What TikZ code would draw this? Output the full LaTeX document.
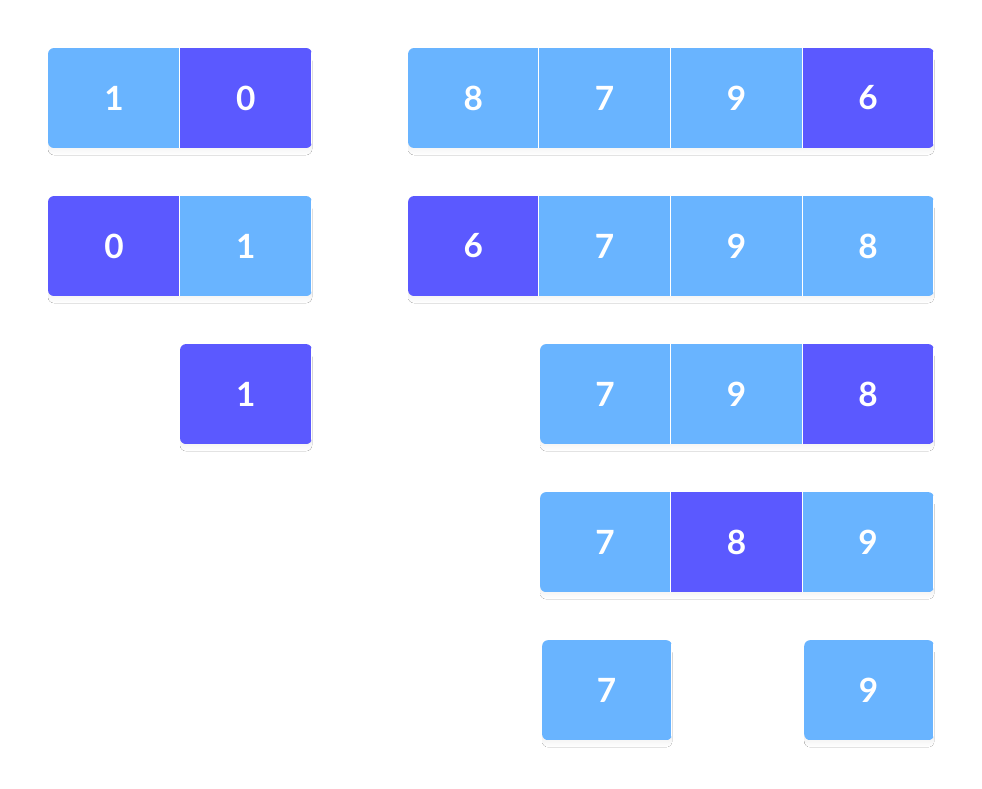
\documentclass[tikz,border=0pt]{standalone}
\usepackage{fontspec}
\setmainfont{Lato}
\definecolor{lightcell}{HTML}{69B4FF}
\definecolor{darkcell}{HTML}{5B59FF}
\definecolor{shade}{HTML}{EAF3FE}
\tikzset{
  cell/.style={fill=#1, draw=none},
  digit/.style={text=white, font=\fontsize{19}{19}\selectfont\bfseries},
  divider/.style={white, line width=0.04cm}
}
% group of cells: #1 left, #2 right, #3 top (px), #4 list of left/right/label/colour
\newcommand{\cellgroup}[4]{
  \fill[shade, rounded corners=0.12cm] (#1*0.02,-#3*0.02-0.14) rectangle (#2*0.02,-#3*0.02-2.14);
  \begin{scope}
    \clip[rounded corners=0.12cm] (#1*0.02,-#3*0.02) rectangle (#2*0.02,-#3*0.02-2);
    \foreach \a/\b/\t/\c in {#4} {
      \fill[cell=\c] (\a*0.02,-#3*0.02) rectangle (\b*0.02,-#3*0.02-2);
      \node[digit] (n\t\a) at ({(\a+\b)*0.01},-#3*0.02-1) {\t};
      \draw[divider] (\b*0.02,-#3*0.02) -- (\b*0.02,-#3*0.02-2);
    }
  \end{scope}
}
\begin{document}
\begin{tikzpicture}
\useasboundingbox (0,0) rectangle (19.64,-15.76);
% left column
\cellgroup{48}{312}{48}{48/180/1/lightcell, 180/312/0/darkcell}
\cellgroup{48}{312}{196}{48/180/0/darkcell, 180/312/1/lightcell}
\cellgroup{180}{312}{344}{180/312/1/darkcell}
% right column
\cellgroup{408}{934}{48}{408/539/8/lightcell, 539/671/7/lightcell, 671/803/9/lightcell, 803/934/6/darkcell}
\cellgroup{408}{934}{196}{408/539/6/darkcell, 539/671/7/lightcell, 671/803/9/lightcell, 803/934/8/lightcell}
\cellgroup{540}{934}{344}{540/671/7/lightcell, 671/803/9/lightcell, 803/934/8/darkcell}
\cellgroup{540}{934}{492}{540/671/7/lightcell, 671/803/8/darkcell, 803/934/9/lightcell}
\cellgroup{542}{672}{640}{542/672/7/lightcell}
\cellgroup{804}{934}{640}{804/934/9/lightcell}
\end{tikzpicture}
\end{document}
